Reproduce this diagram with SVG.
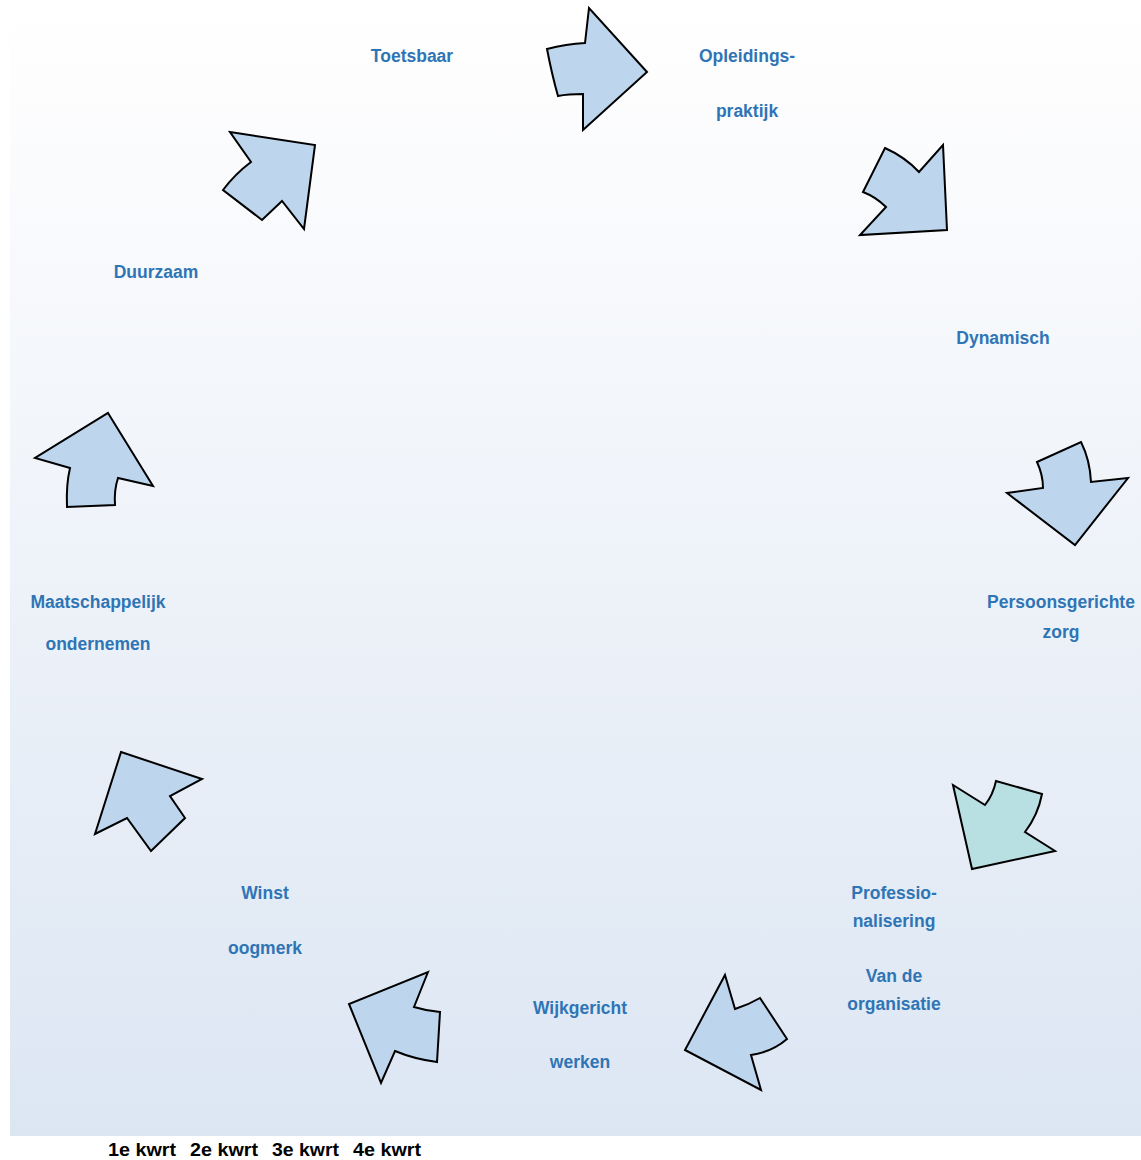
<svg xmlns="http://www.w3.org/2000/svg" width="1141" height="1160" viewBox="0 0 1141 1160">
<defs>
<linearGradient id="bg" x1="0" y1="0" x2="0" y2="1">
<stop offset="0" stop-color="#ffffff"/>
<stop offset="0.08" stop-color="#fdfdfe"/>
<stop offset="1" stop-color="#dce6f3"/>
</linearGradient>
<style>
.arr{fill:#bdd5ed;stroke:#000;stroke-width:2;stroke-linejoin:miter}
.teal{fill:#b8dfe1}
.lbl{font-family:"Liberation Sans",Arial,sans-serif;font-weight:bold;font-size:17.5px;fill:#2f75b5;text-anchor:middle}
.q{font-family:"Liberation Sans",Arial,sans-serif;font-weight:bold;font-size:18.5px;fill:#000}
</style>
</defs>
<rect x="10" y="0" width="1131" height="1136" fill="url(#bg)"/>
<g id="connectors"></g>
<g id="arrow1"><path class="arr" d="M547,49 Q566,44 585,43 L589,8 L647,72 L583,130 L583,94 Q568,94 558,96 Q552,75 547,49 Z"/></g>
<g id="arrow2"><path class="arr" d="M885,148 Q905,157 919,172 L943,145 L947,230 L860,235 L886,207 Q876,197 863,192 Z"/></g>
<g id="arrow3"><path class="arr" d="M1037,462 L1081,442 Q1090,460 1091,482 L1128,478 L1075,545 L1007,493 L1043,488 Q1043,475 1037,462 Z"/></g>
<g id="arrow4"><path class="arr teal" d="M953,785 L985,805 Q993,795 996,781 L1042,794 Q1038,815 1025,832 L1055,851 L972,869 Z"/></g>
<g id="arrow5"><path class="arr" d="M725,975 L735,1009 Q748,1005 760,998 L787,1039 Q772,1052 751,1055 L761,1090 L685,1050 Z"/></g>
<g id="arrow6"><path class="arr" d="M428,972 L414,1007 Q427,1011 440,1012 L437,1062 Q414,1059 395,1051 L381,1083 L349,1004 Z"/></g>
<g id="arrow7"><path class="arr" d="M121,752 L202,779 L170,796 L185,818 L151,851 L127,818 L95,834 Z"/></g>
<g id="arrow8"><path class="arr" d="M108,413 L153,486 L118,478 Q114,490 115,505 L67,507 Q66,485 70,468 L35,458 Z"/></g>
<g id="arrow9"><path class="arr" d="M230,132 L315,145 L304,229 L282,201 L262,220 L223,190 Q235,174 251,162 Z"/></g>
<g id="t-toetsbaar"><text class="lbl" x="412" y="62">Toetsbaar</text></g>
<g id="t-opleidings"><text class="lbl" x="747" y="62">Opleidings-</text><text class="lbl" x="747" y="117">praktijk</text></g>
<g id="t-dynamisch"><text class="lbl" x="1003" y="344">Dynamisch</text></g>
<g id="t-persoons"><text class="lbl" x="1061" y="608">Persoonsgerichte</text><text class="lbl" x="1061" y="638">zorg</text></g>
<g id="t-prof"><text class="lbl" x="894" y="899">Professio-</text><text class="lbl" x="894" y="927">nalisering</text><text class="lbl" x="894" y="982">Van de</text><text class="lbl" x="894" y="1010">organisatie</text></g>
<g id="t-wijk"><text class="lbl" x="580" y="1014">Wijkgericht</text><text class="lbl" x="580" y="1068">werken</text></g>
<g id="t-winst"><text class="lbl" x="265" y="899">Winst</text><text class="lbl" x="265" y="954">oogmerk</text></g>
<g id="t-maat"><text class="lbl" x="98" y="608">Maatschappelijk</text><text class="lbl" x="98" y="650">ondernemen</text></g>
<g id="t-duurzaam"><text class="lbl" x="156" y="278">Duurzaam</text></g>
<g id="quarters"><text class="q" x="108" y="1156" textLength="68" lengthAdjust="spacingAndGlyphs">1e kwrt</text><text class="q" x="190" y="1156" textLength="68" lengthAdjust="spacingAndGlyphs">2e kwrt</text><text class="q" x="272" y="1156" textLength="67" lengthAdjust="spacingAndGlyphs">3e kwrt</text><text class="q" x="353" y="1156" textLength="68" lengthAdjust="spacingAndGlyphs">4e kwrt</text></g>
</svg>
